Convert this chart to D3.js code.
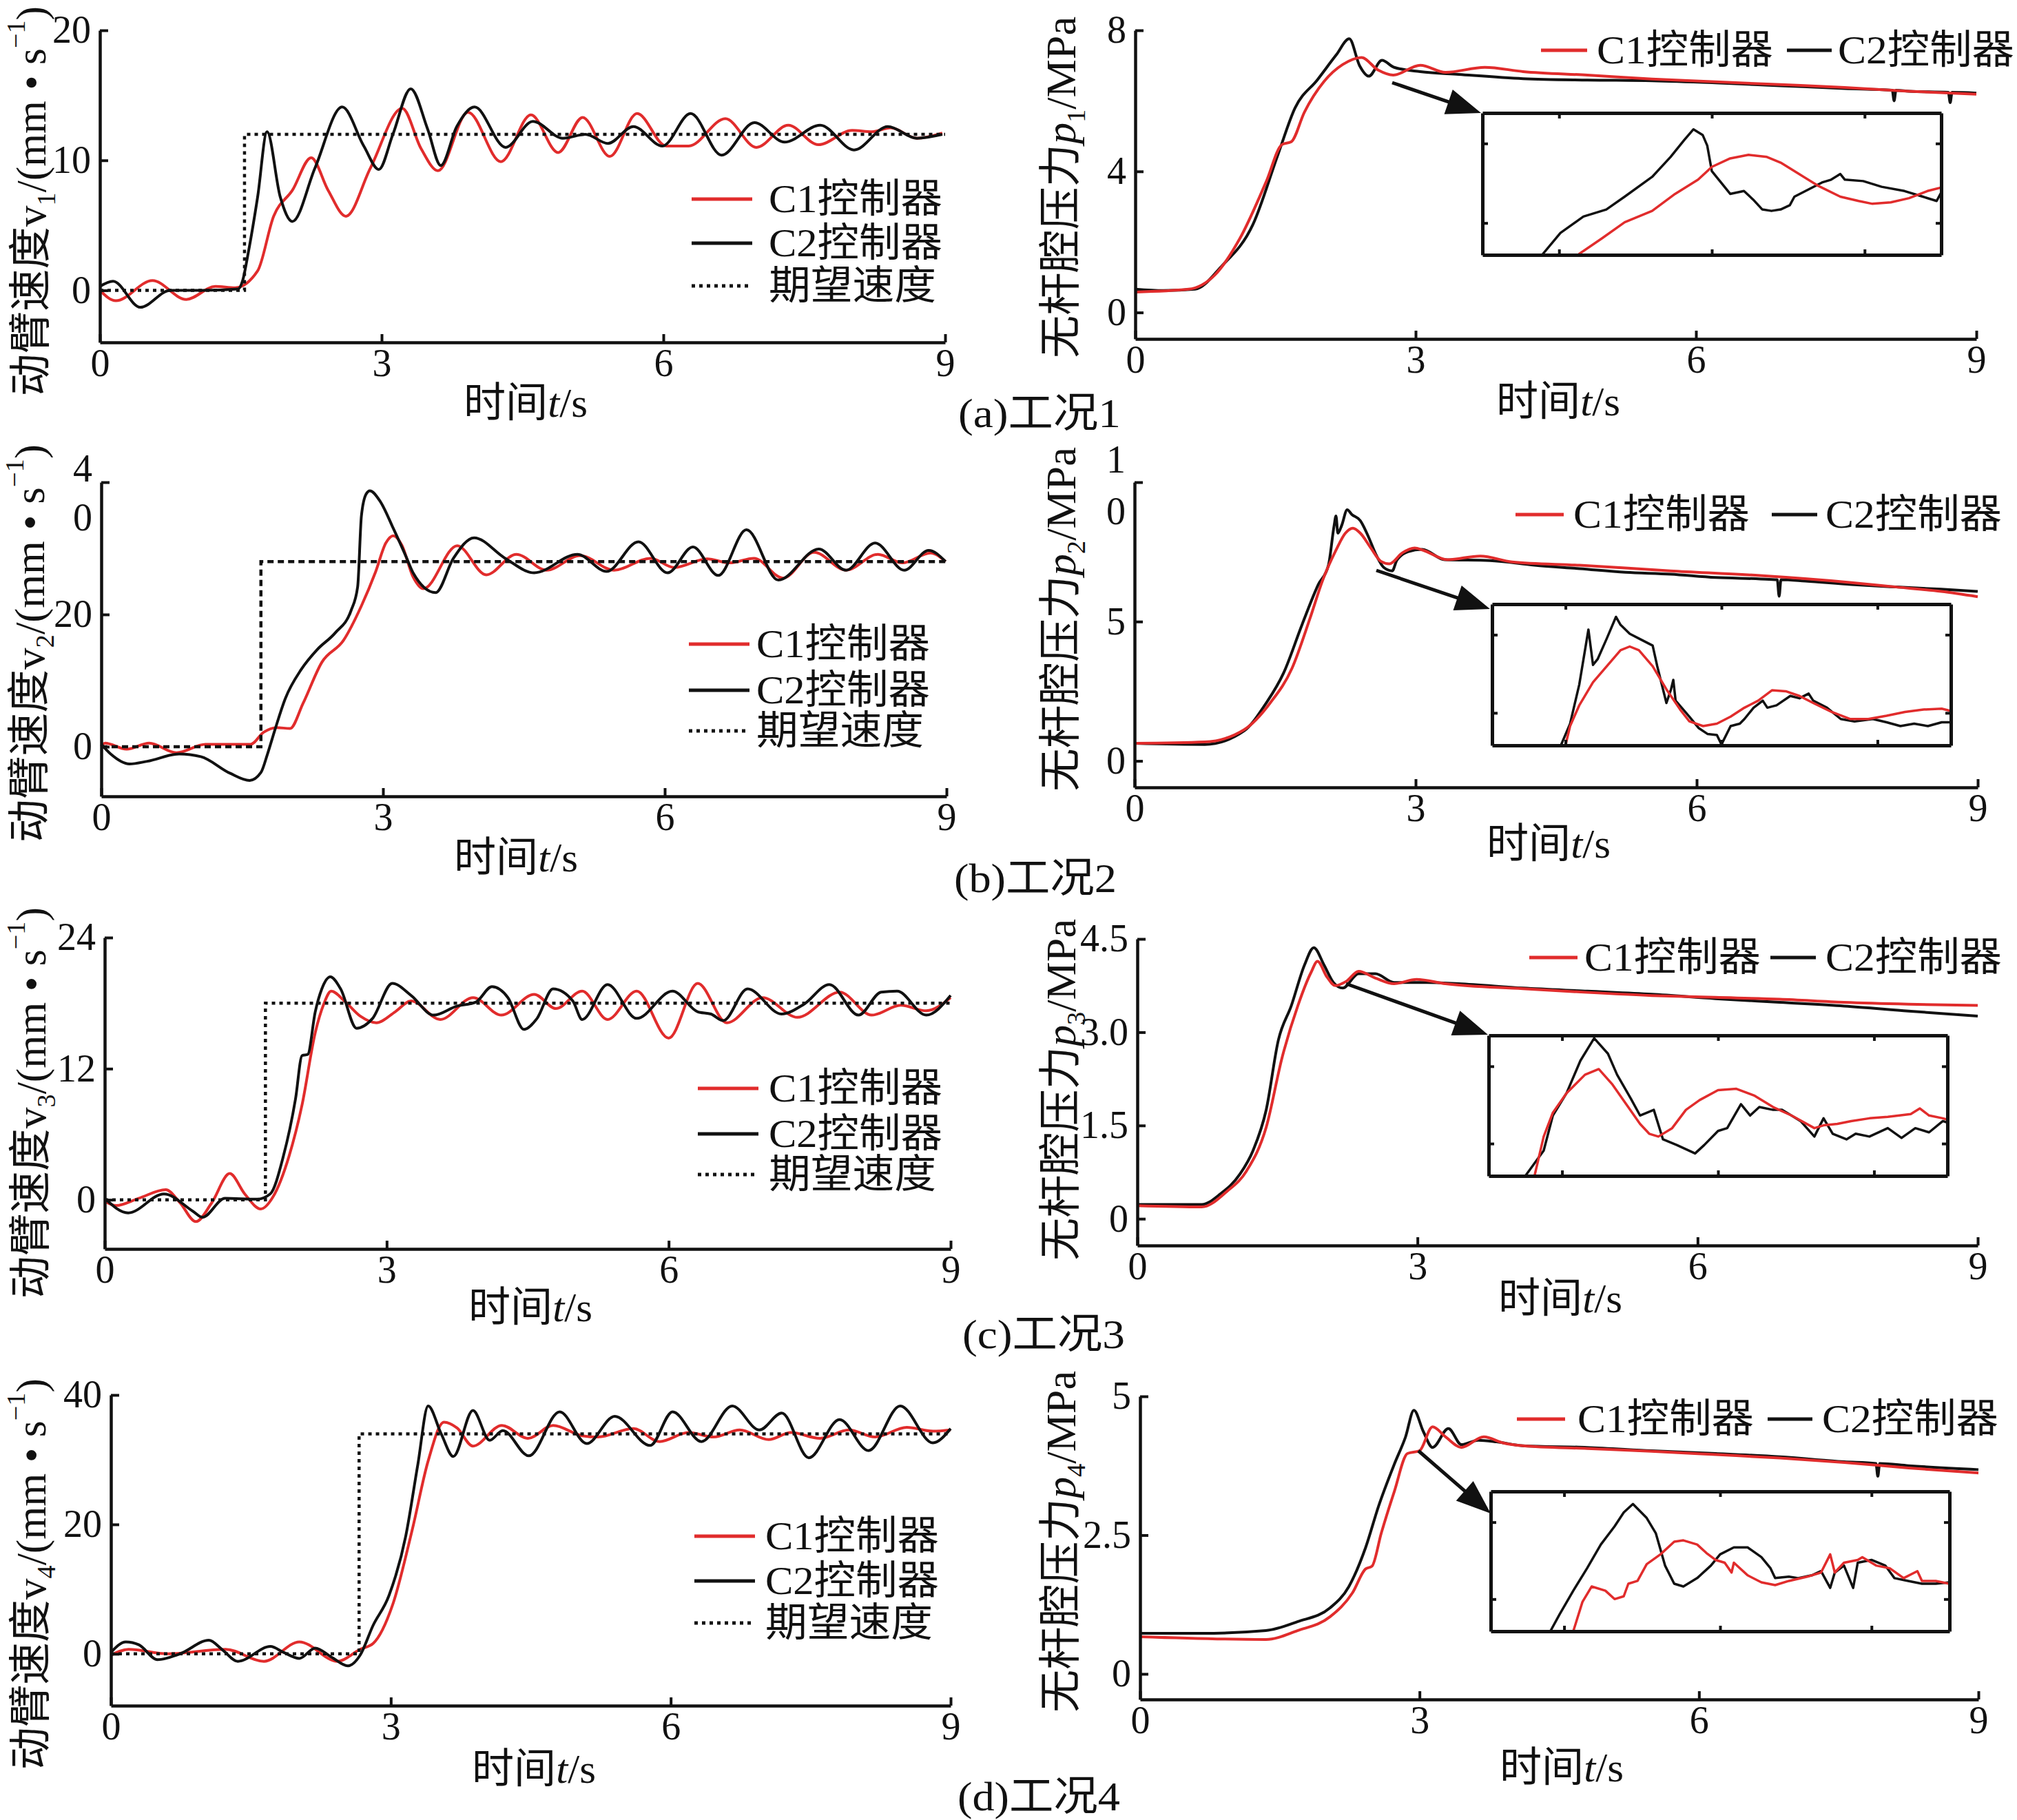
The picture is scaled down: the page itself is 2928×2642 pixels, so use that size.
<!DOCTYPE html>
<html>
<head>
<meta charset="utf-8">
<title>工况1-4 动臂速度与无杆腔压力</title>
<script src="https://cdn.jsdelivr.net/npm/d3@7/dist/d3.min.js"></script>
<style>
  body { margin: 0; background: #fff; }
  svg text { font-family: "Liberation Serif", "Times New Roman", "Noto Sans CJK SC", serif; fill: #111; }
</style>
</head>
<body>
<svg id="fig" width="2928" height="2642"></svg>
<script>
var RED = "#e12c2c", INK = "#111";

var timeTicks = [0, 3, 6, 9];
var legendNames = ["C1控制器", "C2控制器", "期望速度"];
var captions = ["(a)工况1", "(b)工况2", "(c)工况3", "(d)工况4"];

// ---- 工况1 ----
var v1Desired = [[0,0],[1.54,0],[1.54,12],[9,12]];
var v1C1 = [[0,0],[0.17,-0.8],[0.56,0.75],[0.92,-0.7],[1.23,0.3],[1.44,0.2],[1.68,1.5],[1.85,5.7],[2.05,7.7],[2.25,10.2],[2.43,7.7],[2.62,5.7],[2.88,9.4],[3.22,14.0],[3.42,10.9],[3.6,9.2],[3.92,13.7],[4.27,9.9],[4.59,13.5],[4.88,10.6],[5.14,13.3],[5.43,10.3],[5.72,13.6],[6.03,11.1],[6.27,11.1],[6.66,13.2],[6.99,11.0],[7.33,12.7],[7.65,11.2],[8.01,12.3],[8.22,12.2],[8.42,12.5],[8.7,11.7],[8.97,12.1]];
var v1C2 = [[0,0.3],[0.14,0.7],[0.43,-1.3],[0.75,0],[1.1,0],[1.47,0.1],[1.52,0.75],[1.58,2.9],[1.68,7.2],[1.78,12.2],[1.92,7.2],[2.05,5.3],[2.29,9.4],[2.58,14.1],[2.81,11.1],[2.97,9.3],[3.12,12],[3.31,15.5],[3.49,12.4],[3.63,9.6],[3.8,12.6],[3.99,14.1],[4.32,11.0],[4.61,13.0],[4.93,11.7],[5.17,12.0],[5.41,11.3],[5.68,12.6],[5.99,11.1],[6.29,13.6],[6.62,10.4],[6.97,12.9],[7.29,11.4],[7.67,12.7],[8.03,10.8],[8.39,12.6],[8.7,11.7],[8.97,12.0]];
var p1C1 = [[0,0.58],[0.57,0.66],[0.85,1.06],[1.12,2.1],[1.4,3.7],[1.57,4.76],[1.67,4.84],[1.81,5.68],[2.02,6.55],[2.22,7.03],[2.42,7.23],[2.6,6.87],[2.76,6.73],[3.05,7.01],[3.32,6.81],[3.74,6.95],[4.15,6.83],[4.84,6.73],[5.53,6.62],[6.21,6.54],[6.9,6.46],[7.59,6.38],[8.28,6.27],[9,6.19]];
var p1C2 = [[0,0.66],[0.3,0.62],[0.64,0.66],[0.92,1.3],[1.26,2.5],[1.53,4.5],[1.71,5.8],[1.95,6.6],[2.15,7.3],[2.29,7.76],[2.4,7.0],[2.5,6.7],[2.64,7.15],[2.77,6.95],[3.05,6.83],[3.46,6.75],[4.15,6.63],[4.84,6.59],[5.53,6.57],[6.21,6.51],[6.9,6.43],[7.59,6.35],[8.1,6.3],[8.12,6.0],[8.14,6.3],[8.28,6.27],[8.7,6.24],[8.72,5.95],[8.74,6.24],[9,6.22]];
var insetA_C1 = [[2.21,6.01],[2.26,6.23],[2.31,6.46],[2.37,6.62],[2.42,6.86],[2.47,7.06],[2.50,7.24],[2.54,7.36],[2.58,7.41],[2.62,7.38],[2.65,7.30],[2.69,7.14],[2.73,6.98],[2.78,6.82],[2.82,6.76],[2.85,6.72],[2.89,6.74],[2.93,6.80],[2.97,6.90],[3.00,6.95]];
var insetA_C2 = [[2.13,6.0],[2.17,6.31],[2.22,6.54],[2.27,6.64],[2.31,6.82],[2.37,7.10],[2.41,7.38],[2.44,7.62],[2.46,7.77],[2.48,7.69],[2.49,7.54],[2.50,7.18],[2.52,7.02],[2.54,6.86],[2.57,6.90],[2.59,6.78],[2.61,6.64],[2.63,6.62],[2.65,6.64],[2.67,6.70],[2.68,6.82],[2.71,6.92],[2.74,7.02],[2.76,7.06],[2.78,7.14],[2.79,7.06],[2.83,7.04],[2.87,6.96],[2.92,6.90],[2.96,6.82],[2.99,6.76],[3.00,6.88]];

// ---- 工况2 ----
var v2Desired = [[0,0],[1.7,0],[1.7,28],[9,28]];
var v2C1 = [[0,0],[0.04,0.55],[0.27,-0.37],[0.51,0.55],[0.8,-0.9],[1.11,0.37],[1.45,0.37],[1.59,0.37],[1.73,2.2],[1.87,2.9],[2.01,2.75],[2.15,6.6],[2.35,12.8],[2.58,16.1],[2.77,21.3],[2.92,26.4],[3.03,30.8],[3.11,31.9],[3.2,30.5],[3.32,25.7],[3.43,23.9],[3.79,30.4],[4.1,26.0],[4.42,29.1],[4.74,26.7],[5.1,28.9],[5.46,26.7],[5.85,28.5],[6.1,27.1],[6.45,28.4],[6.69,27.8],[6.95,28.5],[7.26,25.5],[7.59,29.4],[7.93,26.7],[8.27,29.1],[8.53,27.8],[8.83,29.3],[8.99,28.0]];
var v2C2 = [[0,0.37],[0.1,-1.1],[0.3,-2.6],[0.49,-2.2],[0.83,-1.1],[1.06,-1.5],[1.37,-4.0],[1.58,-5.1],[1.7,-3.9],[1.77,-1.1],[1.85,2.6],[1.96,7.3],[2.13,11.7],[2.3,14.7],[2.49,17.2],[2.66,20.6],[2.73,24.2],[2.77,34.9],[2.82,38.2],[2.86,38.7],[2.97,37.1],[3.11,33.0],[3.25,28.6],[3.32,26.3],[3.56,23.3],[3.75,28.5],[3.97,31.6],[4.3,28.5],[4.61,26.3],[5.07,29.1],[5.38,26.5],[5.72,31.0],[6.03,26.3],[6.3,30.2],[6.57,25.9],[6.87,32.8],[7.21,25.2],[7.64,29.9],[7.93,26.7],[8.24,30.8],[8.55,26.7],[8.81,29.7],[8.99,28.0]];
var p2C1 = [[0,0.63],[0.75,0.68],[1.17,1.12],[1.45,2.09],[1.68,3.32],[1.87,5.09],[2.01,6.5],[2.15,7.56],[2.25,8.17],[2.33,8.35],[2.41,8.17],[2.52,7.65],[2.63,7.16],[2.72,7.07],[2.86,7.47],[2.99,7.64],[3.08,7.56],[3.34,7.22],[3.69,7.35],[4.03,7.14],[4.75,7.02],[5.72,6.82],[6.68,6.65],[7.65,6.4],[8.13,6.24],[8.61,6.08],[9,5.89]];
var p2C2 = [[0,0.63],[0.75,0.59],[1.17,1.08],[1.39,2.0],[1.59,3.15],[1.79,4.91],[1.96,6.32],[2.07,7.03],[2.13,8.44],[2.15,8.79],[2.17,8.17],[2.21,8.44],[2.27,9.01],[2.32,8.84],[2.41,8.62],[2.49,8.09],[2.58,7.38],[2.66,6.94],[2.75,6.82],[2.8,7.2],[2.92,7.51],[3.07,7.59],[3.31,7.22],[3.79,7.19],[4.27,7.02],[4.75,6.9],[5.24,6.77],[5.72,6.7],[6.2,6.58],[6.68,6.53],[6.86,6.5],[6.88,5.91],[6.9,6.5],[7.16,6.45],[7.65,6.33],[8.13,6.24],[8.61,6.16],[9,6.08]];
var insetB_C1 = [[2.16,6.5],[2.17,6.91],[2.19,7.35],[2.22,7.84],[2.25,8.18],[2.28,8.52],[2.30,8.60],[2.32,8.52],[2.35,8.18],[2.38,7.69],[2.41,7.26],[2.43,7.01],[2.46,6.91],[2.49,6.96],[2.52,7.11],[2.55,7.30],[2.58,7.45],[2.61,7.67],[2.64,7.65],[2.67,7.55],[2.70,7.40],[2.74,7.21],[2.78,7.06],[2.82,7.06],[2.86,7.13],[2.90,7.21],[2.94,7.26],[2.98,7.28],[3.00,7.23]];
var insetB_C2 = [[2.15,6.5],[2.17,6.96],[2.19,7.79],[2.21,8.96],[2.22,8.21],[2.23,8.33],[2.25,8.77],[2.27,9.23],[2.28,9.06],[2.30,8.87],[2.32,8.77],[2.35,8.62],[2.36,8.18],[2.38,7.40],[2.39,7.69],[2.395,7.89],[2.40,7.45],[2.43,7.11],[2.45,6.87],[2.47,6.74],[2.49,6.72],[2.50,6.52],[2.52,6.91],[2.54,6.96],[2.55,7.06],[2.57,7.30],[2.59,7.45],[2.60,7.30],[2.62,7.35],[2.65,7.55],[2.67,7.50],[2.69,7.60],[2.70,7.45],[2.73,7.30],[2.76,7.06],[2.79,7.01],[2.83,7.06],[2.86,6.99],[2.89,6.91],[2.92,6.96],[2.95,6.91],[2.98,6.99],[3.00,6.99]];

// ---- 工况3 ----
var v3Desired = [[0,0],[1.71,0],[1.71,18],[9,18]];
var v3C1 = [[0,-0.13],[0.12,-0.53],[0.36,0.13],[0.65,0.92],[0.8,-0.26],[0.97,-2.0],[1.14,-0.26],[1.33,2.4],[1.49,0.53],[1.66,-0.84],[1.79,0.26],[1.96,3.96],[2.1,8.7],[2.24,15.3],[2.33,17.9],[2.41,19.1],[2.55,18.2],[2.72,16.8],[2.89,16.2],[3.09,17.2],[3.26,18.2],[3.57,16.5],[3.92,18.5],[4.22,16.9],[4.57,18.8],[4.8,17.5],[5.08,19.1],[5.35,16.5],[5.66,19.1],[6.0,14.8],[6.31,19.8],[6.62,16.2],[7.0,18.5],[7.37,16.7],[7.82,19.0],[8.16,16.9],[8.47,17.8],[8.74,17.3],[9,18.5]];
var v3C2 = [[0,0.13],[0.25,-1.2],[0.63,0.53],[0.94,-1.06],[1.04,-1.6],[1.28,0.13],[1.62,0.05],[1.76,0.53],[1.9,3.96],[2.03,9.23],[2.1,13.2],[2.16,13.3],[2.24,17.2],[2.31,19.3],[2.4,20.4],[2.51,19.3],[2.68,15.7],[2.85,16.6],[3.06,19.8],[3.26,18.7],[3.5,16.9],[3.74,17.7],[3.95,18.1],[4.12,19.5],[4.29,18.5],[4.46,15.6],[4.6,16.6],[4.77,19.3],[4.98,18.2],[5.08,16.5],[5.35,19.7],[5.66,16.6],[6.04,19.1],[6.31,17.2],[6.45,17.0],[6.58,16.4],[6.84,19.3],[7.2,17.0],[7.44,17.9],[7.71,19.7],[8.02,16.9],[8.26,19.0],[8.43,19.1],[8.74,16.9],[9,18.7]];
var p3C1 = [[0,0.21],[0.69,0.19],[0.96,0.44],[1.17,0.77],[1.38,1.47],[1.55,2.59],[1.72,3.43],[1.86,3.96],[1.93,4.14],[2.03,3.89],[2.12,3.75],[2.24,3.82],[2.37,3.98],[2.55,3.87],[2.75,3.78],[2.99,3.85],[3.3,3.78],[4.13,3.70],[4.82,3.64],[5.51,3.59],[6.19,3.56],[6.88,3.53],[7.57,3.48],[8.26,3.45],[9,3.43]];
var p3C2 = [[0,0.23],[0.69,0.23],[0.89,0.4],[1.1,0.72],[1.24,1.1],[1.38,1.75],[1.51,2.87],[1.65,3.43],[1.79,4.08],[1.89,4.36],[2.0,4.08],[2.1,3.8],[2.2,3.71],[2.37,3.94],[2.55,3.94],[2.75,3.8],[3.1,3.8],[3.44,3.78],[4.13,3.71],[4.82,3.66],[5.51,3.61],[6.19,3.54],[6.88,3.48],[7.57,3.42],[8.26,3.34],[9,3.26]];
var insetC_C1 = [[1.70,3.40],[1.72,3.68],[1.74,3.85],[1.77,3.99],[1.81,4.12],[1.84,4.16],[1.87,4.05],[1.90,3.91],[1.93,3.77],[1.95,3.70],[1.97,3.68],[2.00,3.74],[2.03,3.87],[2.06,3.94],[2.10,4.01],[2.14,4.02],[2.18,3.97],[2.22,3.89],[2.26,3.83],[2.31,3.74],[2.33,3.76],[2.36,3.77],[2.39,3.79],[2.43,3.81],[2.47,3.82],[2.52,3.84],[2.54,3.88],[2.56,3.83],[2.59,3.81],[2.60,3.80]];
var insetC_C2 = [[1.68,3.40],[1.72,3.58],[1.74,3.83],[1.77,3.99],[1.80,4.22],[1.83,4.38],[1.86,4.27],[1.88,4.12],[1.91,3.95],[1.93,3.83],[1.96,3.87],[1.98,3.66],[2.01,3.62],[2.05,3.56],[2.07,3.62],[2.10,3.72],[2.12,3.74],[2.15,3.91],[2.17,3.83],[2.19,3.89],[2.22,3.87],[2.24,3.87],[2.28,3.79],[2.31,3.68],[2.33,3.81],[2.35,3.70],[2.38,3.66],[2.40,3.70],[2.43,3.68],[2.47,3.74],[2.50,3.67],[2.53,3.74],[2.56,3.71],[2.59,3.79],[2.60,3.78]];

// ---- 工况4 ----
var v4Desired = [[0,0],[2.66,0],[2.66,34],[9,34]];
var v4C1 = [[0,-0.23],[0.19,0.7],[0.61,0],[1.23,0.7],[1.64,-1.15],[2.02,1.85],[2.43,-1.15],[2.67,0.7],[2.81,1.6],[3.02,7.6],[3.23,19.2],[3.4,29.8],[3.57,35.8],[3.71,34.9],[3.88,32.1],[4.19,35.3],[4.47,33.3],[4.74,35.3],[5.05,33.7],[5.22,33.5],[5.6,34.8],[5.88,32.8],[6.19,34.2],[6.46,33.5],[6.74,34.6],[7.05,33.1],[7.29,34.2],[7.6,33.3],[7.91,34.6],[8.19,33.5],[8.53,35.0],[8.81,34.4],[9,34.6]];
var v4C2 = [[0,0.23],[0.16,1.85],[0.3,1.4],[0.5,-0.9],[0.74,0],[1.05,2.1],[1.19,0.7],[1.36,-1.15],[1.71,1.15],[1.85,0.23],[2.02,-0.7],[2.19,0.9],[2.36,-0.46],[2.54,-1.85],[2.67,-0.23],[2.81,4.4],[2.98,9.0],[3.16,18.2],[3.29,29.3],[3.4,38.3],[3.54,34.0],[3.67,30.5],[3.88,37.6],[4.06,33.0],[4.2,34.5],[4.48,30.6],[4.81,37.4],[5.1,32.5],[5.4,36.7],[5.78,32.2],[6.02,37.4],[6.33,32.8],[6.66,38.3],[6.95,34.6],[7.19,37.2],[7.48,30.3],[7.81,36.2],[8.12,31.4],[8.46,38.3],[8.81,32.6],[9,34.8]];
var p4C1 = [[0,0.67],[1.35,0.62],[1.69,0.78],[2.04,1.03],[2.28,1.46],[2.42,1.89],[2.49,1.94],[2.59,2.54],[2.73,3.29],[2.87,3.97],[3.0,4.02],[3.14,4.45],[3.28,4.27],[3.45,4.08],[3.69,4.27],[3.9,4.16],[4.11,4.11],[4.8,4.06],[5.49,4.01],[6.18,3.95],[6.87,3.89],[7.56,3.81],[8.25,3.71],[9,3.62]];
var p4C2 = [[0,0.73],[0.66,0.73],[1.35,0.78],[1.69,0.94],[2.04,1.19],[2.24,1.57],[2.42,2.27],[2.56,3.02],[2.73,3.78],[2.85,4.27],[2.94,4.75],[3.04,4.37],[3.14,4.08],[3.31,4.42],[3.45,4.13],[3.63,4.21],[3.83,4.18],[4.11,4.11],[4.8,4.08],[5.49,4.02],[6.18,3.97],[6.87,3.91],[7.56,3.82],[7.9,3.79],[7.92,3.56],[7.94,3.79],[8.25,3.75],[9,3.68]];
var insetD_C1 = [[2.68,3.80],[2.70,4.01],[2.72,4.12],[2.75,4.09],[2.77,4.03],[2.79,4.05],[2.80,4.14],[2.82,4.16],[2.84,4.28],[2.87,4.35],[2.90,4.44],[2.92,4.45],[2.95,4.42],[2.97,4.36],[2.99,4.31],[3.01,4.29],[3.025,4.22],[3.03,4.29],[3.06,4.20],[3.09,4.15],[3.12,4.13],[3.15,4.16],[3.19,4.19],[3.22,4.22],[3.24,4.35],[3.25,4.22],[3.27,4.29],[3.30,4.31],[3.31,4.33],[3.34,4.27],[3.37,4.25],[3.40,4.18],[3.43,4.23],[3.44,4.16],[3.47,4.16],[3.50,4.14]];
var insetD_C2 = [[2.63,3.80],[2.65,3.92],[2.68,4.09],[2.71,4.25],[2.74,4.42],[2.77,4.55],[2.79,4.65],[2.81,4.71],[2.84,4.61],[2.86,4.50],[2.88,4.27],[2.90,4.14],[2.92,4.12],[2.95,4.18],[2.98,4.27],[3.00,4.35],[3.03,4.40],[3.06,4.40],[3.09,4.33],[3.11,4.25],[3.12,4.18],[3.15,4.19],[3.17,4.18],[3.20,4.20],[3.22,4.23],[3.24,4.11],[3.25,4.22],[3.27,4.27],[3.29,4.11],[3.30,4.29],[3.33,4.31],[3.36,4.27],[3.38,4.18],[3.41,4.16],[3.44,4.14],[3.47,4.14],[3.50,4.15]];

function velTitle(n) {
  return [{t:"动臂速度"},{t:"v"},{t:n,sub:1},{t:"/(mm • s"},{t:"−1",sup:1},{t:")"}];
}
function pressTitle(n) {
  return [{t:"无杆腔压力"},{t:"p",i:1},{t:n,sub:1},{t:"/MPa"}];
}

var panels = [
  {x0:145, x1:1372, yBot:497, yTop:44, yDomain:[-4,20], yTicks:[0,10,20], yLabels:["0","10","20"],
   smooth:true, c1:v1C1, c2:v1C2, desired:v1Desired, dash:"5 6",
   title:{parts:velTitle("1"), bx:66, cy:292, len:566},
   xTitle:{cx:763, y:605},
   legend:{x:1004, rows:[289,353,415], textX:1116}},
  {x0:1648, x1:2869, yBot:492, yTop:44, yDomain:[-0.75,8], yTicks:[0,4,8], yLabels:["0","4","8"],
   c1:p1C1, c2:p1C2,
   title:{parts:pressTitle("1"), bx:1561, cy:272, len:496},
   xTitle:{cx:2262, y:603},
   legendRow:{y:73, items:[[2237,2304,2318],[2594,2659,2668]]},
   inset:{x:2152, y:164, w:666, h:206, xDomain:[2,3], yDomain:[6,8], xTicks:[2.167,2.5,2.833], yTicks:[6.45,7.57], c1:insetA_C1, c2:insetA_C2},
   arrow:{from:[2021,120], to:[2150,164]}},
  {x0:147, x1:1374, yBot:1156, yTop:700, yDomain:[-7.5,40], yTicks:[0,20,40], yLabels:["0","20","40"], stackTop:[-21,50],
   smooth:true, c1:v2C1, c2:v2C2, desired:v2Desired, dash:"9 6",
   title:{parts:velTitle("2"), bx:64, cy:934, len:578},
   xTitle:{cx:749, y:1265},
   legend:{x:1000, rows:[935,1002,1061], textX:1098}},
  {x0:1647, x1:2871, yBot:1143, yTop:700, yDomain:[-0.95,10], yTicks:[0,5,10], yLabels:["0","5","10"], stackTop:[-34,41],
   c1:p2C1, c2:p2C2,
   title:{parts:pressTitle("2"), bx:1561, cy:899, len:500},
   xTitle:{cx:2248, y:1245},
   legendRow:{y:747, items:[[2200,2270,2284],[2572,2638,2650]]},
   inset:{x:2166, y:877, w:666, h:205, xDomain:[2,3], yDomain:[6.5,9.5], xTicks:[2.16,2.5,2.84], yTicks:[7.19,8.85], c1:insetB_C1, c2:insetB_C2},
   arrow:{from:[1998,828], to:[2163,884]}},
  {x0:152, x1:1380, yBot:1813, yTop:1361, yDomain:[-4.5,24], yTicks:[0,12,24], yLabels:["0","12","24"],
   smooth:true, c1:v3C1, c2:v3C2, desired:v3Desired, dash:"5 6",
   title:{parts:velTitle("3"), bx:66, cy:1601, len:568},
   xTitle:{cx:770, y:1918},
   legend:{x:1013, rows:[1580,1646,1705], textX:1116}},
  {x0:1651, x1:2871, yBot:1808, yTop:1363, yDomain:[-0.43,4.5], yTicks:[0,1.5,3,4.5], yLabels:["0","1.5","3.0","4.5"],
   c1:p3C1, c2:p3C2,
   title:{parts:pressTitle("3"), bx:1561, cy:1582, len:496},
   xTitle:{cx:2265, y:1905},
   legendRow:{y:1390, items:[[2220,2290,2300],[2570,2636,2650]]},
   inset:{x:2161, y:1503, w:666, h:204, xDomain:[1.6,2.6], yDomain:[3.4,4.4], xTicks:[1.76,2.10,2.44], yTicks:[3.63,4.18], c1:insetC_C1, c2:insetC_C2},
   arrow:{from:[1954,1428], to:[2160,1502]}},
  {x0:161, x1:1380, yBot:2476, yTop:2025, yDomain:[-8,40], yTicks:[0,20,40], yLabels:["0","20","40"],
   smooth:true, c1:v4C1, c2:v4C2, desired:v4Desired, dash:"5 6",
   title:{parts:velTitle("4"), bx:66, cy:2285, len:568},
   xTitle:{cx:775, y:2588},
   legend:{x:1008, rows:[2230,2295,2356], textX:1111}},
  {x0:1655, x1:2872, yBot:2467, yTop:2027, yDomain:[-0.46,5], yTicks:[0,2.5,5], yLabels:["0","2.5","5"],
   c1:p4C1, c2:p4C2,
   title:{parts:pressTitle("4"), bx:1561, cy:2238, len:496},
   xTitle:{cx:2267, y:2586},
   legendRow:{y:2060, items:[[2202,2272,2290],[2566,2631,2645]]},
   inset:{x:2164, y:2165, w:666, h:203, xDomain:[2.5,3.5], yDomain:[3.8,4.8], xTicks:[2.66,3.0,3.33], yTicks:[4.03,4.58], c1:insetD_C1, c2:insetD_C2},
   arrow:{from:[2059,2106], to:[2164,2197]}}
];

var captionPos = [[1509,620],[1503,1295],[1515,1957],[1508,2628]];

var svg = d3.select("#fig");
svg.append("rect").attr("width",2928).attr("height",2642).attr("fill","#fff");

function addRich(textSel, parts, size) {
  var shift = 0;
  parts.forEach(function(p) {
    var ts = textSel.append("tspan").text(p.t);
    var target = p.sub ? size*0.22 : (p.sup ? -size*0.48 : 0);
    if (target !== shift) ts.attr("dy", target - shift);
    shift = target;
    if (p.sub || p.sup) ts.attr("font-size", size*0.62);
    if (p.i) ts.attr("font-style", "italic");
  });
}

function styleAxis(ax, fontSize) {
  ax.attr("font-family", null).attr("font-size", null);
  ax.select(".domain").attr("stroke", INK).attr("stroke-width", 4.5);
  ax.selectAll(".tick line").attr("stroke", INK).attr("stroke-width", 4);
  ax.selectAll(".tick text").attr("fill", INK).attr("font-size", fontSize);
}

function drawPanel(p, idx) {
  var g = svg.append("g").attr("class", "panel-" + idx);
  var x = d3.scaleLinear().domain([0, 9]).range([p.x0, p.x1]);
  var y = d3.scaleLinear().domain(p.yDomain).range([p.yBot, p.yTop]);
  var line = d3.line()
    .x(function(d) { return x(d[0]); })
    .y(function(d) { return y(d[1]); })
    .curve(d3.curveMonotoneX);

  var order = p.smooth ? [[p.c1, RED], [p.c2, INK]] : [[p.c2, INK], [p.c1, RED]];
  order.forEach(function(s) {
    g.append("path").datum(s[0]).attr("d", line)
      .attr("fill", "none").attr("stroke", s[1]).attr("stroke-width", 4)
      .attr("stroke-linejoin", "round");
  });
  if (p.desired) {
    g.append("path").datum(p.desired)
      .attr("d", d3.line().x(function(d) { return x(d[0]); }).y(function(d) { return y(d[1]); }))
      .attr("fill", "none").attr("stroke", INK).attr("stroke-width", 4.5)
      .attr("stroke-dasharray", p.dash);
  }

  var ax = g.append("g").attr("transform", "translate(0," + p.yBot + ")")
    .call(d3.axisBottom(x).tickValues(timeTicks).tickSizeInner(-12).tickSizeOuter(0)
      .tickPadding(9).tickFormat(d3.format("d")));
  styleAxis(ax, 56);

  var ay = g.append("g").attr("transform", "translate(" + p.x0 + ",0)")
    .call(d3.axisLeft(y).tickValues(p.yTicks).tickSizeInner(-12).tickSizeOuter(0)
      .tickPadding(13).tickFormat(function(d, i) { return p.yLabels[i]; }));
  styleAxis(ay, 56);

  if (p.stackTop) {
    var top = p.yTicks[p.yTicks.length - 1];
    var tt = ay.selectAll(".tick").filter(function(d) { return d === top; }).select("text");
    var chars = tt.text().split("");
    var tx = tt.attr("x");
    tt.text(null).attr("dy", null);
    chars.forEach(function(ch, i) {
      tt.append("tspan").attr("x", tx).attr("y", p.stackTop[i]).attr("dy", "0.35em").text(ch);
    });
  }

  // y title, rotated; bx is the baseline position
  var tg = g.append("g").attr("transform", "translate(" + p.title.bx + "," + p.title.cy + ") rotate(-90)");
  var tt2 = tg.append("text").attr("text-anchor", "middle")
    .attr("font-size", 62).attr("textLength", p.title.len).attr("lengthAdjust", "spacingAndGlyphs");
  addRich(tt2, p.title.parts, 62);

  // x title
  var xt = g.append("text").attr("x", p.xTitle.cx).attr("y", p.xTitle.y)
    .attr("text-anchor", "middle").attr("font-size", 60)
    .attr("textLength", 180).attr("lengthAdjust", "spacingAndGlyphs");
  addRich(xt, [{t:"时间"},{t:"t",i:1},{t:"/s"}], 60);

  // legends
  if (p.legend) {
    var colors = [RED, INK, INK];
    p.legend.rows.forEach(function(ry, i) {
      g.append("line").attr("x1", p.legend.x).attr("x2", p.legend.x + 88)
        .attr("y1", ry).attr("y2", ry)
        .attr("stroke", colors[i]).attr("stroke-width", 5)
        .attr("stroke-dasharray", i === 2 ? "5 6" : null);
      g.append("text").attr("x", p.legend.textX).attr("y", ry + 19)
        .attr("font-size", 58)
        .attr("textLength", i === 2 ? 243 : 252).attr("lengthAdjust", "spacingAndGlyphs")
        .text(legendNames[i]);
    });
  }
  if (p.legendRow) {
    var rc = [RED, INK];
    p.legendRow.items.forEach(function(it, i) {
      g.append("line").attr("x1", it[0]).attr("x2", it[1])
        .attr("y1", p.legendRow.y).attr("y2", p.legendRow.y)
        .attr("stroke", rc[i]).attr("stroke-width", 5);
      g.append("text").attr("x", it[2]).attr("y", p.legendRow.y + 19)
        .attr("font-size", 58).attr("textLength", 256).attr("lengthAdjust", "spacingAndGlyphs")
        .text(legendNames[i]);
    });
  }

  if (p.inset) drawInset(g, p.inset, idx);
  if (p.arrow) drawArrow(g, p.arrow);
}

function drawInset(g, ins, idx) {
  var ix = d3.scaleLinear().domain(ins.xDomain).range([ins.x, ins.x + ins.w]);
  var iy = d3.scaleLinear().domain(ins.yDomain).range([ins.y + ins.h, ins.y]);
  var cid = "clip-inset-" + idx;
  svg.append("clipPath").attr("id", cid).append("rect")
    .attr("x", ins.x).attr("y", ins.y).attr("width", ins.w).attr("height", ins.h);
  g.append("rect").attr("x", ins.x).attr("y", ins.y).attr("width", ins.w).attr("height", ins.h)
    .attr("fill", "#fff");
  var ln = d3.line().x(function(d) { return ix(d[0]); }).y(function(d) { return iy(d[1]); });
  var lg = g.append("g").attr("clip-path", "url(#" + cid + ")");
  [[ins.c2, INK], [ins.c1, RED]].forEach(function(s) {
    lg.append("path").datum(s[0]).attr("d", ln).attr("fill", "none")
      .attr("stroke", s[1]).attr("stroke-width", 3.5).attr("stroke-linejoin", "round");
  });
  var none = function() { return ""; };
  var axes = [
    [d3.axisTop(ix).tickValues(ins.xTicks), "translate(0," + ins.y + ")"],
    [d3.axisBottom(ix).tickValues(ins.xTicks), "translate(0," + (ins.y + ins.h) + ")"],
    [d3.axisLeft(iy).tickValues(ins.yTicks), "translate(" + ins.x + ",0)"],
    [d3.axisRight(iy).tickValues(ins.yTicks), "translate(" + (ins.x + ins.w) + ",0)"]
  ];
  axes.forEach(function(a) {
    var s = g.append("g").attr("transform", a[1])
      .call(a[0].tickSizeInner(-8).tickSizeOuter(0).tickFormat(none));
    styleAxis(s, 10);
    s.select(".domain").attr("stroke-width", 5);
  });
}

function drawArrow(g, ar) {
  var fx = ar.from[0], fy = ar.from[1], tx = ar.to[0], ty = ar.to[1];
  var dx = tx - fx, dy = ty - fy, L = Math.sqrt(dx*dx + dy*dy);
  var ux = dx / L, uy = dy / L, head = 50, half = 19;
  var bx = tx - ux*head, by = ty - uy*head;
  g.append("line").attr("x1", fx).attr("y1", fy).attr("x2", bx + ux*4).attr("y2", by + uy*4)
    .attr("stroke", INK).attr("stroke-width", 5);
  g.append("path")
    .attr("d", d3.line()([[tx, ty], [bx - uy*half, by + ux*half], [bx + uy*half, by - ux*half]]) + "Z")
    .attr("fill", INK);
}

panels.forEach(drawPanel);

captions.forEach(function(c, i) {
  svg.append("text").attr("x", captionPos[i][0]).attr("y", captionPos[i][1])
    .attr("text-anchor", "middle").attr("font-size", 60)
    .attr("textLength", 236).attr("lengthAdjust", "spacingAndGlyphs")
    .text(c);
});
</script>
</body>
</html>
